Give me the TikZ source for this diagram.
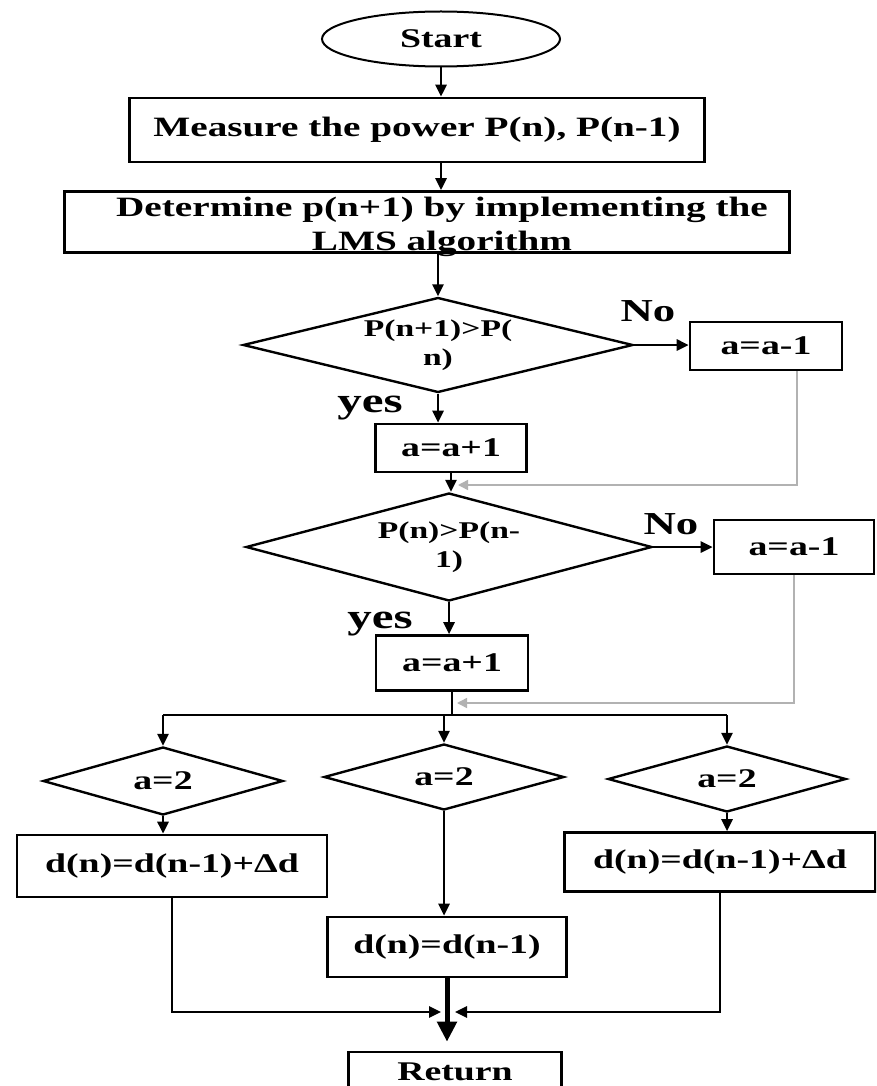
\documentclass[tikz,border=0pt]{standalone}
\usepackage{fontspec}
\newfontfamily\flowfont[FakeStretch=1.4]{Liberation Serif}
\usepackage{tikz}
\usetikzlibrary{shapes.geometric,arrows.meta,calc}

\begin{document}
\begin{tikzpicture}[
    x=1pt, y=-1pt,
    every node/.style={font=\flowfont\bfseries\fontsize{27}{31}\selectfont},
    block/.style={draw, line width=2.6pt, inner sep=0pt, align=center},
    test/.style={draw, diamond, line width=2.4pt, inner sep=0pt, align=center},
    small/.style={font=\flowfont\bfseries\fontsize{24}{29}\selectfont},
    tag/.style={font=\flowfont\bfseries\fontsize{32}{36}\selectfont},
    line/.style={line width=2.6pt},
    flow/.style={line width=2.6pt, -{Triangle[length=12pt,width=11pt]}},
    back/.style={line width=1.5pt, gray!60, -{Triangle[length=10pt,width=10pt]}},
    bold flow/.style={line width=5pt, -{Triangle[length=20pt,width=19pt]}}
]
    % Frame
    \useasboundingbox (0,0) rectangle (876,1086);
    \fill[white] (0,0) rectangle (876,1086);
    \clip (0,0) rectangle (876,1086);

    % Top part
    \node[draw, ellipse, line width=2pt, minimum width=238pt, minimum height=55pt, inner sep=0pt] (start) at (441,39) {Start};
    \node[block, minimum width=575pt, minimum height=64pt, font=\flowfont\bfseries\fontsize{28}{32}\selectfont] (measure) at (417,130) {Measure the power P(n), P(n-1)};
    \node[block, minimum width=725pt, minimum height=61pt] (lms) at (427,222) {};
    \node[align=center, inner sep=0pt, font=\flowfont\bfseries\fontsize{28}{34}\selectfont] (lmstext) at (442,227) {Determine p(n+1) by implementing the\\LMS algorithm};

    % First test
    \node[test, small, minimum width=390pt, minimum height=95pt, aspect=4.1] (cmp1) at (438,345) {P(n+1)>P(\\n)};
    \node[block, minimum width=152pt, minimum height=48pt] (dec1) at (766,346) {a=a-1};
    \node[block, minimum width=151pt, minimum height=48pt] (inc1) at (451,448) {a=a+1};
    \node[tag] (no1) at (648,311) {No};
    \node[tag, font=\flowfont\bfseries\fontsize{35}{40}\selectfont] (yes1) at (370,408) {yes};

    % Second test
    \node[test, small, minimum width=406pt, minimum height=108pt, aspect=3.76] (cmp2) at (449,547) {P(n)>P(n-\\1)};
    \node[block, minimum width=160pt, minimum height=54pt] (dec2) at (794,547) {a=a-1};
    \node[block, minimum width=152pt, minimum height=55pt] (inc2) at (452,663) {a=a+1};
    \node[tag] (no2) at (671,524) {No};
    \node[tag, font=\flowfont\bfseries\fontsize{35}{40}\selectfont] (yes2) at (380,624) {yes};

    % Three cases
    \node[test, minimum width=240pt, minimum height=68pt, aspect=3.5] (chk1) at (163,781) {a=2};
    \node[test, minimum width=240pt, minimum height=66pt, aspect=3.5] (chk2) at (444,777) {a=2};
    \node[test, minimum width=238pt, minimum height=66pt, aspect=3.5] (chk3) at (727,779) {a=2};
    \node[block, minimum width=310pt, minimum height=62pt] (up1) at (172,866) {d(n)=d(n-1)+Δd};
    \node[block, minimum width=239pt, minimum height=60pt] (hold) at (447,947) {d(n)=d(n-1)};
    \node[block, minimum width=311pt, minimum height=59pt] (up2) at (720,862) {d(n)=d(n-1)+Δd};
    \node[block, minimum width=213pt, minimum height=40pt] (ret) at (455,1072) {Return};

    % Helper points
    \coordinate (back1) at (797,485);
    \coordinate (merge1) at (458,485);
    \coordinate (merge2) at (457,703);
    \coordinate (fork) at (450,715);
    \coordinate (join) at (447,1012);

    % Main path
    \draw[flow] (start.south) -- (start.south |- measure.north);
    \draw[flow] (start.south |- measure.south) -- (start.south |- lms.north);
    \draw[flow] (cmp1.north |- lms.south) -- (cmp1.north);
    \draw[flow] (cmp1.east) -- (cmp1.east -| dec1.west);
    \draw[flow] (cmp1.south) -- (cmp1.south |- inc1.north);
    \draw[flow] (inc1.south) -- (inc1.south |- cmp2.north);
    \draw[back] (dec1.south -| back1) -- (back1) -- (merge1);
    \draw[flow] (cmp2.east) -- (cmp2.east -| dec2.west);
    \draw[flow] (cmp2.south) -- (cmp2.south |- inc2.north);
    \draw[line] (inc2.south) -- (inc2.south |- fork);
    \draw[back] (dec2.south) |- (merge2);

    % Fork to the three tests
    \draw[line] (chk1.north |- fork) -- (chk3.north |- fork);
    \draw[flow] (chk1.north |- fork) -- (chk1.north);
    \draw[flow] (chk2.north |- fork) -- (chk2.north);
    \draw[flow] (chk3.north |- fork) -- (chk3.north);
    \draw[flow] (chk1.south) -- (chk1.south |- up1.north);
    \draw[flow] (chk2.south) -- (chk2.south |- hold.north);
    \draw[flow] (chk3.south) -- (chk3.south |- up2.north);

    % Join to return
    \draw[flow] (up1.south) |- ([xshift=-6pt]join);
    \draw[flow] (up2.south) |- ([xshift=8pt]join);
    \draw[bold flow, shorten >=9pt] (hold.south) -- (hold.south |- ret.north);
\end{tikzpicture}
\end{document}
